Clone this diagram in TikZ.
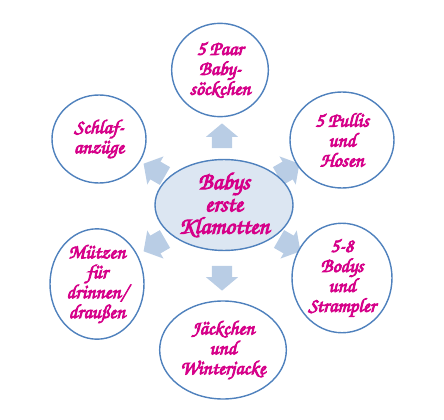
\documentclass[tikz,border=0pt]{standalone}
\usepackage{fontspec}
\newfontfamily\handfont{texgyrechorus-mediumitalic.otf}[FakeBold=4]
\usetikzlibrary{shapes.geometric, shapes.arrows}

\definecolor{rimblue}{RGB}{79,129,189}
\definecolor{coreblue}{RGB}{220,230,242}
\definecolor{arrowblue}{RGB}{185,205,229}
\definecolor{babypink}{RGB}{214,0,137}

\begin{document}
\begin{tikzpicture}[x = 0.03cm, y = -0.03cm,
        topic/.style={ellipse, draw=rimblue, very thick, fill=coreblue, inner sep=0pt, minimum width=4.14cm, minimum height=2.4cm, align=center, text=babypink, font=\handfont\fontsize{20.5}{19}\selectfont},
        thing/.style={ellipse, draw=rimblue, very thick, fill=white, inner sep=0pt, minimum width=2.9cm, minimum height=2.8cm, align=center, text=babypink, font=\handfont\fontsize{17}{17}\selectfont},
        pointer/.style={single arrow, fill=arrowblue, draw=none, inner xsep=0pt, inner ysep=0.3cm, minimum height=0.74cm, single arrow head extend=0.18cm, single arrow tip angle=100}
    ]
        \useasboundingbox (0,0) rectangle (444,420);

        % Arrows (behind the circles)
        \node[pointer, rotate = 90] (a1) at (222,140) {};
        \node[pointer, rotate = 30] (a2) at (285,172) {};
        \node[pointer, rotate = -30] (a3) at (286,243) {};
        \node[pointer, rotate = -90] (a4) at (222,274) {};
        \node[pointer, rotate = 210] (a5) at (158,243) {};
        \node[pointer, rotate = 150] (a6) at (158,172) {};

        % Nodes
        \node[topic] (babys) at (224,205) {Babys\\erste\\Klamotten};

        \node[thing] (socks) at (220,70) {5 Paar\\Baby-\\söckchen};
        \node[thing, minimum width = 3.12cm, minimum height = 2.88cm] (pullis) at (342,140) {5 Pullis\\und\\Hosen};
        \node[thing, minimum width = 3.0cm, minimum height = 2.88cm] (bodys) at (342,278) {5-8\\Bodys\\und\\Strampler};
        \node[thing, minimum width = 3.8cm, minimum height = 2.94cm] (jacke) at (223,350) {Jäckchen\\und\\Winterjacke};
        \node[thing, minimum width = 2.82cm, minimum height = 2.64cm] (muetzen) at (97,284) {Mützen\\für\\drinnen/\\draußen};
        \node[thing, minimum width = 2.82cm, minimum height = 2.64cm] (schlaf) at (99,139) {Schlaf-\\anzüge};
    \end{tikzpicture}
\end{document}
